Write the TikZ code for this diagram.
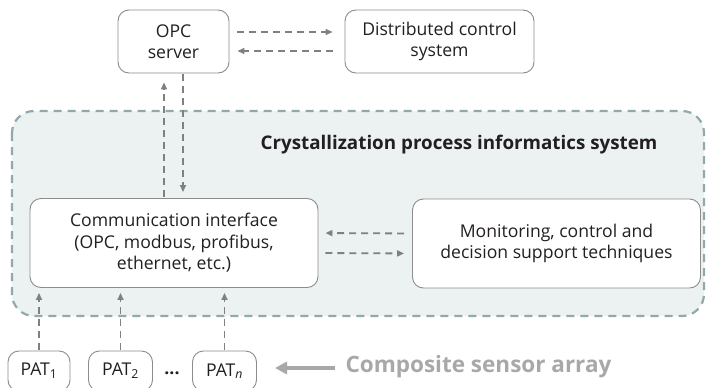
\documentclass[tikz,border=0pt]{standalone}
\usepackage{fontspec}
\setmainfont{Open Sans}
\usepackage{tikz}
\usetikzlibrary{arrows.meta}
\usetikzlibrary{positioning}

\definecolor{linegray}{HTML}{808080}
\definecolor{boxgray}{HTML}{8C8C8C}
\definecolor{regionfill}{HTML}{ECF2F1}
\definecolor{regionline}{HTML}{91A8AD}
\definecolor{textdark}{HTML}{231F20}
\definecolor{sensorgray}{HTML}{A8A8A8}

\begin{document}
\begin{tikzpicture}[
    x=1pt, y=-1pt,
    font=\fontsize{17.6}{21.5}\selectfont,
    box node/.style={draw=boxgray, line width=0.9pt, fill=white, rounded corners=11pt,
      text=textdark, align=center, inner sep=2pt},
    pat node/.style={box node, minimum width=64pt, minimum height=40pt},
    flow/.style={draw=linegray, line width=1.8pt, dash pattern=on 7pt off 5pt,
      -{Triangle[length=7pt,width=6pt]}},
    ]
  \useasboundingbox (0,0) rectangle (707,388);

  % informatics system region
  \draw[fill=regionfill, draw=regionline, line width=2.2pt, dash pattern=on 8pt off 6pt,
    rounded corners=22pt] (12,111) rectangle (704,316);
  \node[font=\fontsize{18.8}{22}\selectfont\bfseries, text=textdark] (title) at (459,145)
    {Crystallization process informatics system};

  \node[box node, minimum width=111pt, minimum height=63pt] (opc) at (173.5,41.5) {OPC\\server};
  \node[box node, minimum width=189pt, minimum height=63pt] (dcs) at (439.5,41.5) {Distributed control\\system};
  \node[box node, minimum width=288pt, minimum height=89pt] (comm) at (174,243)
    {Communication interface\\(OPC, modbus, profibus,\\ethernet, etc.)};
  \node[box node, minimum width=288pt, minimum height=89pt] (mon) at (556.5,243.5)
    {Monitoring, control and\\decision support techniques};

  \node[pat node, minimum width=62pt] (pat1) at (39,371) {PAT\textsubscript{1}};
  \node[pat node] (pat2) at (120.5,371) {PAT\textsubscript{2}};
  \node[pat node] (patn) at (224.5,371) {PAT\textsubscript{\itshape n}};
  \node[text=textdark, font=\fontsize{17.6}{20}\selectfont\bfseries] (dots) at (172,373) {...};

  \node[anchor=west, text=sensorgray, font=\fontsize{22.5}{26}\selectfont\bfseries] (sensor) at (342,367)
    {Composite sensor array};
  \draw[draw=sensorgray, line width=3.5pt, -{Triangle[length=12pt,width=12pt]}]
    (sensor.west) ++(-7,1) coordinate (s1) (s1) -- ++(-60,0) coordinate (s2);

  % links to the control system
  \draw[flow, shorten <=8pt, shorten >=12pt] ([yshift=9.5pt]opc.east) -- ([yshift=9.5pt]dcs.west);
  \draw[flow, shorten <=12pt, shorten >=8pt] ([yshift=-9.5pt]dcs.west) -- ([yshift=-9.5pt]opc.east);

  \draw[flow, shorten <=1pt, shorten >=9pt] ([xshift=-10pt]comm.north) -- ([xshift=-10pt]comm.north |- opc.south);
  \draw[flow, shorten <=1pt, shorten >=6pt] ([xshift=9pt]comm.north |- opc.south) -- ([xshift=9pt]comm.north);

  \draw[flow, shorten <=8pt, shorten >=7pt] ([yshift=10pt]mon.west) -- ([yshift=10pt]comm.east);
  \draw[flow, shorten <=7pt, shorten >=8pt] ([yshift=-10pt]comm.east) -- ([yshift=-10pt]mon.west);

  % sensors
  \draw[flow, shorten <=1pt, shorten >=5pt] (pat1.north) -- (pat1.north |- comm.south);
  \draw[flow, shorten <=1pt, shorten >=5pt] (pat2.north) -- (pat2.north |- comm.south);
  \draw[flow, shorten <=1pt, shorten >=5pt] (patn.north) -- (patn.north |- comm.south);
\end{tikzpicture}
\end{document}
